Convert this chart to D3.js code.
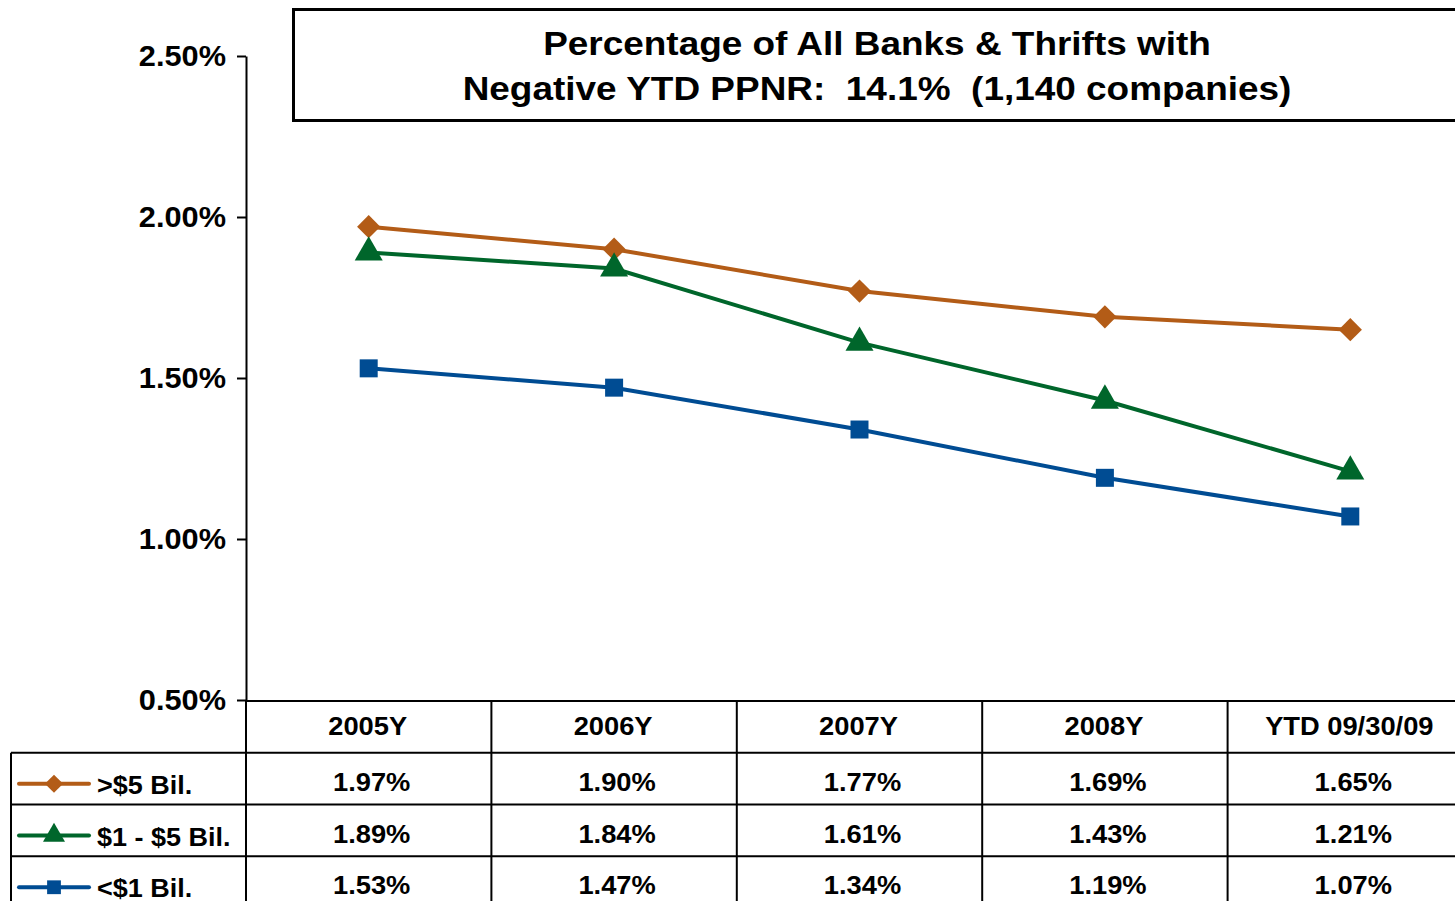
<!DOCTYPE html>
<html lang="en">
<head>
  <meta charset="UTF-8">
  <title>Negative YTD PPNR</title>
  <script src="https://d3js.org/d3.v7.min.js"></script>
  <style>
    body { margin: 0; background: #fff; }
    svg { display: block; font-family: "Liberation Sans", Arial, sans-serif; font-weight: bold; }
  </style>
</head>
<body>

<svg width="1455" height="901"></svg>

<script>
  const categories = ["2005Y", "2006Y", "2007Y", "2008Y", "YTD 09/30/09"];
  const seriesNames = [">$5 Bil.", "$1 - $5 Bil.", "<$1 Bil."];
  const over5Bil = [1.97, 1.90, 1.77, 1.69, 1.65];
  const oneTo5Bil = [1.89, 1.84, 1.61, 1.43, 1.21];
  const under1Bil = [1.53, 1.47, 1.34, 1.19, 1.07];
  const yTicks = [0.5, 1.0, 1.5, 2.0, 2.5];
  const titleLines = ["Percentage of All Banks & Thrifts with",
                      "Negative YTD PPNR:\u00a0 14.1%\u00a0 (1,140 companies)"];

  const series = [
    { name: seriesNames[0], values: over5Bil, color: "#b35c17", symbol: "diamond" },
    { name: seriesNames[1], values: oneTo5Bil, color: "#00662b", symbol: "triangle" },
    { name: seriesNames[2], values: under1Bil, color: "#004c93", symbol: "square" }
  ];

  const svg = d3.select("svg");
  const W = 1455;

  const x = d3.scaleBand().domain(categories).range([246, 246 + 5 * 245.4]);
  const y = d3.scaleLinear().domain([0.5, 2.5]).range([700, 56]);
  const rows = d3.scaleBand().domain(["header", ...seriesNames]).range([701, 908]);
  const fmt = d => d.toFixed(2) + "%";

  // helper: bold text slightly stretched horizontally like the original
  function label(g, str, px, py, size, sx, anchor) {
    return g.append("text")
      .attr("transform", `translate(${px},${py}) scale(${sx},1)`)
      .attr("text-anchor", anchor || "middle")
      .attr("font-size", size)
      .attr("fill", "#000")
      .text(str);
  }

  // title box
  const tg = svg.append("g");
  tg.append("rect")
    .attr("x", 293.5).attr("y", 9.5).attr("width", 1170).attr("height", 111)
    .attr("fill", "#fff").attr("stroke", "#000").attr("stroke-width", 3);
  label(tg, titleLines[0], 877, 55, 33, 1.12);
  label(tg, titleLines[1], 877, 100, 33, 1.12);

  // y axis
  const yAxis = d3.axisLeft(y).tickValues(yTicks).tickSize(9).tickSizeOuter(0).tickFormat(fmt);
  const ag = svg.append("g").attr("transform", "translate(246,0)").call(yAxis);
  ag.select(".domain").attr("stroke", "#000").attr("stroke-width", 2);
  ag.selectAll(".tick line").attr("stroke", "#000").attr("stroke-width", 2);
  ag.selectAll(".tick text")
    .attr("font-size", 29)
    .attr("font-family", "Liberation Sans, Arial, sans-serif")
    .attr("font-weight", "bold")
    .attr("fill", "#000")
    .attr("x", -20 / 1.06)
    .attr("dy", "0.33em")
    .attr("transform", "scale(1.06,1)");

  // lines + markers
  const line = d3.line().x((d, i) => x(categories[i]) + x.bandwidth() / 2).y(d => y(d));
  const symbols = {
    diamond: d3.symbol(d3.symbolSquare, 270),
    triangle: d3.symbol(d3.symbolTriangle, 340),
    square: d3.symbol(d3.symbolSquare, 324)
  };
  const symbolsSmall = {
    diamond: d3.symbol(d3.symbolSquare, 165),
    triangle: d3.symbol(d3.symbolTriangle, 210),
    square: d3.symbol(d3.symbolSquare, 190)
  };

  series.forEach(s => {
    svg.append("path")
      .attr("d", line(s.values))
      .attr("fill", "none")
      .attr("stroke", s.color)
      .attr("stroke-width", 4);
    svg.append("g").selectAll("path")
      .data(s.values)
      .enter()
      .append("path")
      .attr("d", symbols[s.symbol])
      .attr("transform", (d, i) => `translate(${x(categories[i]) + x.bandwidth() / 2},${y(d)})` +
        (s.symbol === "diamond" ? " rotate(45)" : ""))
      .attr("fill", s.color);
  });

  // data table
  const tb = svg.append("g").attr("stroke", "#000").attr("stroke-width", 2);
  tb.append("line").attr("x1", 246).attr("x2", W).attr("y1", rows("header")).attr("y2", rows("header"));
  seriesNames.forEach(n => {
    tb.append("line").attr("x1", 11).attr("x2", W).attr("y1", rows(n)).attr("y2", rows(n));
  });
  tb.append("line").attr("x1", 11).attr("x2", 11).attr("y1", rows(seriesNames[0])).attr("y2", 901);
  tb.append("line").attr("x1", 246).attr("x2", 246).attr("y1", 700).attr("y2", 901);
  categories.slice(1).forEach(c => {
    tb.append("line").attr("x1", x(c)).attr("x2", x(c)).attr("y1", rows("header")).attr("y2", 901);
  });

  const tt = svg.append("g");
  categories.forEach(c => {
    label(tt, c, x(c) + x.bandwidth() / 2 - 1, rows("header") + 34, 26, 1.05);
  });
  series.forEach(s => {
    const top = rows(s.name);
    s.values.forEach((v, i) => {
      label(tt, fmt(v), x(categories[i]) + x.bandwidth() / 2 + 3, top + 38, 26, 1.05);
    });
    // legend key
    const ly = top + 31;
    tt.append("line").attr("x1", 19).attr("x2", 89).attr("y1", ly).attr("y2", ly)
      .attr("stroke", s.color).attr("stroke-width", 4).attr("stroke-linecap", "round");
    tt.append("path")
      .attr("d", symbolsSmall[s.symbol])
      .attr("transform", `translate(54,${ly})` + (s.symbol === "diamond" ? " rotate(45)" : ""))
      .attr("fill", s.color);
    label(tt, s.name, 97, top + 41, 25, 1.08, "start");
  });
</script>

</body>
</html>
